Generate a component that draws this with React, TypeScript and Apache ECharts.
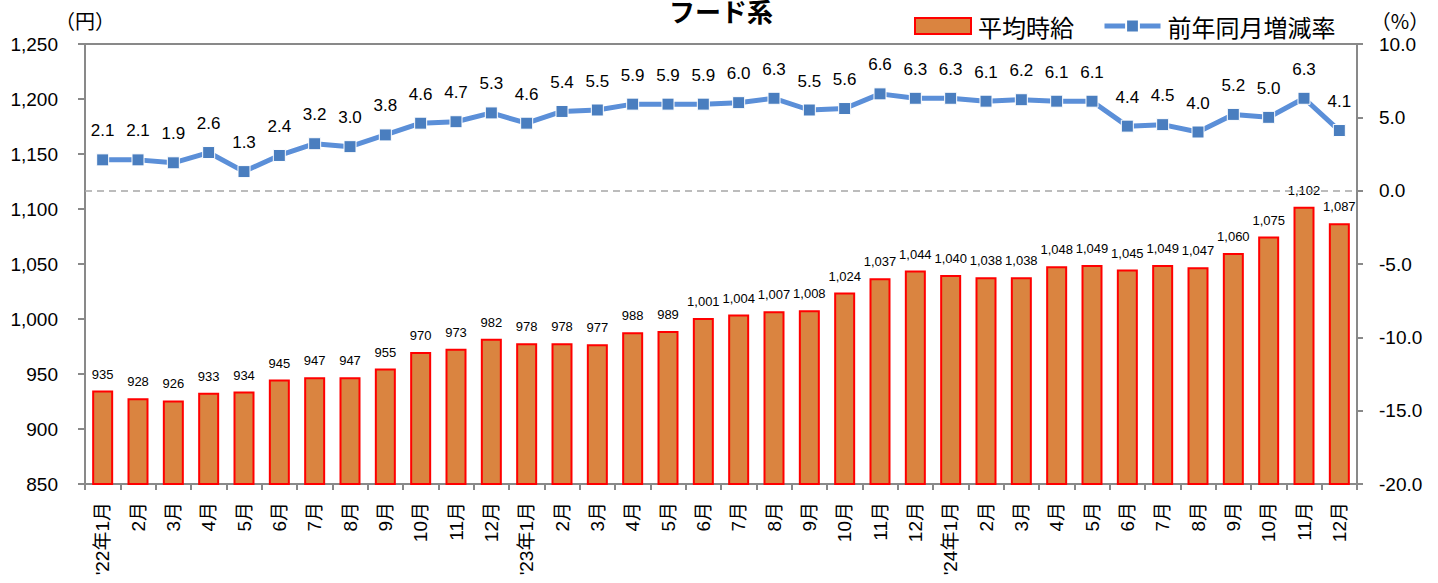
import React, { useEffect, useRef } from "react";
import * as echarts from "echarts";

const categories = [
  "'22年1月", "2月", "3月", "4月", "5月", "6月", "7月", "8月", "9月", "10月", "11月", "12月",
  "'23年1月", "2月", "3月", "4月", "5月", "6月", "7月", "8月", "9月", "10月", "11月", "12月",
  "'24年1月", "2月", "3月", "4月", "5月", "6月", "7月", "8月", "9月", "10月", "11月", "12月",
];

const wageValues = [
  935, 928, 926, 933, 934, 945, 947, 947, 955, 970, 973, 982,
  978, 978, 977, 988, 989, 1001, 1004, 1007, 1008, 1024, 1037, 1044,
  1040, 1038, 1038, 1048, 1049, 1045, 1049, 1047, 1060, 1075, 1102, 1087,
];

const rateValues = [
  2.1, 2.1, 1.9, 2.6, 1.3, 2.4, 3.2, 3.0, 3.8, 4.6, 4.7, 5.3,
  4.6, 5.4, 5.5, 5.9, 5.9, 5.9, 6.0, 6.3, 5.5, 5.6, 6.6, 6.3,
  6.3, 6.1, 6.2, 6.1, 6.1, 4.4, 4.5, 4.0, 5.2, 5.0, 6.3, 4.1,
];

const titleText = "フード系";
const wageName = "平均時給";
const rateName = "前年同月増減率";
const leftUnit = "（円）";
const rightUnit = "（%）";

const FONT = "'Liberation Sans', 'Noto Sans CJK JP', sans-serif";
const CJK = "'Noto Sans CJK JP', sans-serif";
const AXIS_COLOR = "#898989";
const LINE_COLOR = "#5B8FD8";
const MARK_COLOR = "#4A7EBF";

export default function App() {
  const ref = useRef<HTMLDivElement>(null);

  useEffect(() => {
    document.body.style.margin = "0";
    if (!ref.current) return;
    const chart = echarts.init(ref.current, undefined, { renderer: "svg" });
    chart.setOption({
      animation: false,
      backgroundColor: "#ffffff",
      textStyle: { fontFamily: FONT },
      grid: {
        left: 85,
        right: 81,
        top: 44,
        bottom: 99,
        show: true,
        borderColor: AXIS_COLOR,
        borderWidth: 2,
        backgroundColor: "transparent",
      },
      graphic: [
        {
          type: "text",
          x: 721,
          y: 10,
          style: {
            text: titleText,
            font: `bold 26px ${CJK}`,
            fill: "#000",
            textAlign: "center",
            textVerticalAlign: "middle",
          },
        },
        {
          type: "text",
          x: 85,
          y: 20,
          style: {
            text: leftUnit,
            font: `20px ${CJK}`,
            fill: "#000",
            textAlign: "center",
            textVerticalAlign: "middle",
          },
        },
        {
          type: "text",
          x: 1400,
          y: 20,
          style: {
            text: rightUnit,
            font: `20px ${CJK}`,
            fill: "#000",
            textAlign: "center",
            textVerticalAlign: "middle",
          },
        },
      ],
      legend: {
        left: 909,
        top: 9,
        itemWidth: 56,
        itemHeight: 16,
        itemGap: 28,
        textStyle: { fontSize: 24, fontFamily: CJK, color: "#000", padding: [0, 0, 0, 2] },
        data: [
          { name: wageName, icon: "rect" },
          { name: rateName, lineStyle: { width: 5, color: LINE_COLOR } },
        ],
      },
      xAxis: {
        type: "category",
        data: categories,
        boundaryGap: true,
        axisLine: { show: true, onZero: false, lineStyle: { color: AXIS_COLOR, width: 2 } },
        axisTick: { show: true, alignWithLabel: false, interval: 0, length: 6, lineStyle: { color: AXIS_COLOR, width: 2 } },
        axisLabel: {
          interval: 0,
          rotate: 90,
          margin: 18,
          fontSize: 19,
          color: "#000",
          fontFamily: FONT,
        },
        splitLine: { show: false },
      },
      yAxis: [
        {
          type: "value",
          min: 850,
          max: 1250,
          interval: 50,
          position: "left",
          axisLine: { show: true, lineStyle: { color: AXIS_COLOR, width: 2 } },
          axisTick: { show: true, length: 7, lineStyle: { color: AXIS_COLOR, width: 2 } },
          axisLabel: {
            margin: 27,
            fontSize: 19,
            color: "#000",
            formatter: (v: number) => v.toLocaleString("en-US"),
          },
          splitLine: { show: false },
        },
        {
          type: "value",
          min: -20,
          max: 10,
          interval: 5,
          position: "right",
          axisLine: { show: true, lineStyle: { color: AXIS_COLOR, width: 2 } },
          axisTick: { show: true, length: 6, lineStyle: { color: AXIS_COLOR, width: 2 } },
          axisLabel: {
            margin: 22,
            fontSize: 19,
            color: "#000",
            formatter: (v: number) => v.toFixed(1),
          },
          splitLine: { show: false },
        },
      ],
      series: [
        {
          name: wageName,
          type: "bar",
          yAxisIndex: 0,
          data: wageValues,
          barWidth: 21,
          itemStyle: { color: "#DA8440", borderColor: "#FF0000", borderWidth: 2 },
          label: {
            show: true,
            position: "top",
            distance: 10,
            fontSize: 13,
            color: "#000",
            formatter: (p: any) => Number(p.value).toLocaleString("en-US"),
          },
          z: 2,
        },
        {
          name: rateName,
          type: "line",
          yAxisIndex: 1,
          data: rateValues,
          symbol: "rect",
          symbolSize: 12,
          itemStyle: { color: MARK_COLOR, borderColor: "#ffffff", borderWidth: 1 },
          lineStyle: { color: LINE_COLOR, width: 5 },
          label: {
            show: true,
            position: "top",
            distance: 14,
            fontSize: 17,
            color: "#000",
            formatter: (p: any) => Number(p.value).toFixed(1),
          },
          markLine: {
            silent: true,
            symbol: ["none", "none"],
            label: { show: false },
            lineStyle: { color: "#A6A6A6", type: [7, 5], width: 1.5 },
            data: [{ yAxis: 0 }],
          },
          z: 3,
        },
      ],
    });
    return () => chart.dispose();
  }, []);

  return <div ref={ref} style={{ width: 1438, height: 583 }} />;
}
